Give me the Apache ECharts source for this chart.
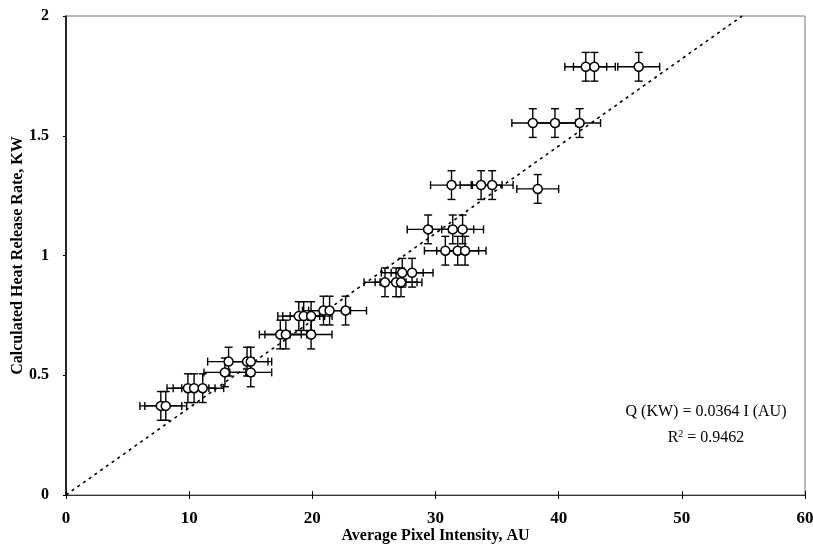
<!DOCTYPE html>
<html>
<head>
<meta charset="utf-8">
<script src="https://cdn.jsdelivr.net/npm/echarts@6/dist/echarts.min.js"></script>
<style>
  html, body { margin: 0; padding: 0; background: #fff; }
  #chart { width: 813px; height: 545px; }
</style>
</head>
<body>
<div id="chart"></div>
<script type="text/javascript">
// measured points: pixel intensity (AU) vs heat release rate (KW)
var pixelIntensity = [42.2, 42.9, 46.5, 37.9, 39.7, 41.7, 38.3, 31.3, 33.7, 34.6,
  29.4, 31.4, 32.2, 30.8, 31.8, 32.4, 27.3, 28.1, 25.9, 26.8, 27.2,
  20.9, 21.4, 22.7, 18.9, 19.3, 19.9, 17.4, 17.85, 19.9,
  13.2, 14.7, 15.0, 12.9, 15.0, 9.9, 10.4, 11.1, 7.7, 8.1];
var heatRelease = [1.788, 1.788, 1.788, 1.553, 1.553, 1.553, 1.278, 1.294, 1.294, 1.294,
  1.109, 1.109, 1.109, 1.020, 1.020, 1.020, 0.928, 0.928, 0.888, 0.888, 0.888,
  0.770, 0.770, 0.770, 0.747, 0.747, 0.747, 0.670, 0.670, 0.670,
  0.557, 0.557, 0.557, 0.512, 0.512, 0.446, 0.446, 0.446, 0.372, 0.372];
var xErr = [1.7];   // same for every point
var yErr = [0.06];

// trend line Q = 0.0364 I
var fitX = [0, 54.9];
var fitY = [0, 2.0];

var xTicks = [0, 10, 20, 30, 40, 50, 60];
var yTicks = [0, 0.5, 1, 1.5, 2];

var pts = [];
for (var i = 0; i < pixelIntensity.length; i++) {
  pts.push([pixelIntensity[i], heatRelease[i]]);
}
var fitLine = [];
for (var i = 0; i < fitX.length; i++) {
  fitLine.push([fitX[i], fitY[i]]);
}

var serif = 'Liberation Serif';

function errRender(params, api) {
  var x = api.value(0), y = api.value(1);
  var c = api.coord([x, y]);
  var l = api.coord([x - xErr[0], y]);
  var r = api.coord([x + xErr[0], y]);
  var t = api.coord([x, y + yErr[0]]);
  var b = api.coord([x, y - yErr[0]]);
  var cap = 4;
  var st = { stroke: '#000', lineWidth: 1.4 };
  var lines = [
    [l[0], c[1], r[0], c[1]],
    [l[0], c[1] - cap, l[0], c[1] + cap],
    [r[0], c[1] - cap, r[0], c[1] + cap],
    [c[0], t[1], c[0], b[1]],
    [c[0] - cap, t[1], c[0] + cap, t[1]],
    [c[0] - cap, b[1], c[0] + cap, b[1]]
  ];
  var children = [];
  for (var k = 0; k < lines.length; k++) {
    children.push({
      type: 'line',
      shape: { x1: lines[k][0], y1: lines[k][1], x2: lines[k][2], y2: lines[k][3] },
      style: st
    });
  }
  return { type: 'group', children: children };
}

var myChart = echarts.init(document.getElementById('chart'));
var option = {
  backgroundColor: '#fff',
  animation: false,
  grid: {
    left: 66, right: 8, top: 16, bottom: 50,
    outerBoundsMode: 'none',
    show: true, borderColor: '#777', borderWidth: 1
  },
  xAxis: [{
    type: 'value', min: 0, max: 60, interval: 10,
    name: 'Average Pixel Intensity, AU',
    nameLocation: 'middle', nameGap: 33, nameMoveOverlap: false,
    nameTextStyle: { fontFamily: serif, fontWeight: 'bold', fontSize: 16, color: '#000' },
    axisLine: { lineStyle: { color: '#333', width: 1.2 } },
    axisTick: { show: true, length: 4, lineStyle: { color: '#000' } },
    axisLabel: { fontFamily: serif, fontWeight: 'bold', fontSize: 17, color: '#000', margin: 15,
      formatter: function (v) { return xTicks.indexOf(v) >= 0 ? String(v) : ''; } },
    splitLine: { show: false }
  }, {
    type: 'value', min: 0, max: 60, interval: 10, position: 'bottom',
    axisLine: { show: false },
    axisTick: { show: true, inside: true, length: 4, lineStyle: { color: '#000' } },
    axisLabel: { show: false },
    splitLine: { show: false }
  }],
  yAxis: {
    type: 'value', min: 0, max: 2, interval: 0.5,
    name: 'Calculated Heat Release Rate, KW',
    nameLocation: 'middle', nameGap: 40, nameMoveOverlap: false,
    nameTextStyle: { fontFamily: serif, fontWeight: 'bold', fontSize: 16, color: '#000' },
    axisLine: { show: true, lineStyle: { color: '#000', width: 1.6 } },
    axisTick: { show: true, length: 3, lineStyle: { color: '#000' } },
    axisLabel: { fontFamily: serif, fontWeight: 'bold', fontSize: 16, color: '#000', margin: 17,
      formatter: function (v) { return yTicks.indexOf(v) >= 0 ? String(v) : ''; } },
    splitLine: { show: false }
  },
  series: [{
    type: 'line',
    data: fitLine,
    symbol: 'none',
    lineStyle: { color: '#000', width: 1.6, type: [3, 4] },
    z: 1
  }, {
    type: 'custom',
    renderItem: errRender,
    data: pts,
    encode: { x: 0, y: 1 },
    z: 2
  }, {
    type: 'scatter',
    data: pts,
    symbol: 'circle',
    symbolSize: 9,
    itemStyle: { color: '#fff', borderColor: '#000', borderWidth: 1.5, opacity: 1 },
    z: 3
  }],
  graphic: [{
    type: 'text', x: 706, y: 412,
    style: { text: 'Q (KW) = 0.0364 I (AU)', font: '16px "Liberation Serif"', fill: '#000',
      align: 'center', verticalAlign: 'middle' }
  }, {
    type: 'text', x: 706, y: 438,
    style: { text: 'R{sup|2} = 0.9462', font: '16px "Liberation Serif"', fill: '#000',
      align: 'center', verticalAlign: 'middle',
      rich: { sup: { fontSize: 10, fontFamily: serif, verticalAlign: 'top', padding: [0, 0, 8, 0] } } }
  }]
};
myChart.setOption(option);
</script>
</body>
</html>
